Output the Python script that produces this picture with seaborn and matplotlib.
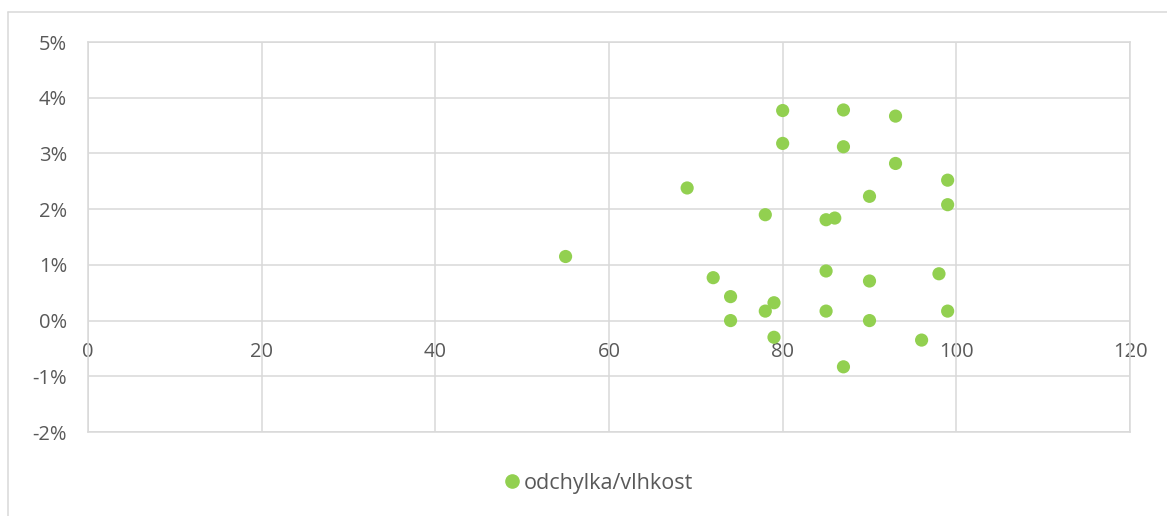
import pandas as pd
import matplotlib.pyplot as plt
import matplotlib.ticker as mticker
from matplotlib.lines import Line2D
import seaborn as sns

# data (vlhkost, odchylka in %)
vlhkost = [55, 69, 72, 74, 74, 78, 78, 79, 79, 80, 80, 85, 85, 85, 86,
           87, 87, 87, 90, 90, 90, 93, 93, 96, 98, 99, 99, 99]
odchylka = [1.15, 2.38, 0.77, 0.43, 0.00, 1.90, 0.17, 0.32, -0.30, 3.77, 3.18, 1.81, 0.89, 0.17, 1.84,
            3.78, 3.12, -0.83, 2.23, 0.71, 0.00, 3.67, 2.82, -0.35, 0.84, 2.52, 2.08, 0.17]
x_ticks = [0, 20, 40, 60, 80, 100, 120]
y_ticks = [-2, -1, 0, 1, 2, 3, 4, 5]

df = pd.DataFrame({"vlhkost": vlhkost, "odchylka": [v / 100 for v in odchylka]})

sns.set_style("white")
plt.rcParams["font.family"] = ["Open Sans", "DejaVu Sans"]
plt.rcParams["axes.unicode_minus"] = False
grey_txt = "#595959"
grid_c = "#D9D9D9"

fig = plt.figure(figsize=(11.67, 5.16), dpi=100)
ax = fig.add_axes([88 / 1167, 1 - 432 / 516, (1130 - 88) / 1167, (432 - 42) / 516])

sns.scatterplot(data=df, x="vlhkost", y="odchylka", ax=ax, color="#92D050",
                s=90, edgecolor="none", legend=False)

ax.set_xlim(0, 120)
ax.set_ylim(-0.02, 0.05)
ax.set_xticks(x_ticks)
ax.set_yticks([v / 100 for v in y_ticks])
ax.yaxis.set_major_formatter(mticker.PercentFormatter(1.0, decimals=0))
ax.grid(True, color=grid_c, lw=1.1)
ax.set_axisbelow(True)
for sp in ax.spines.values():
    sp.set_color(grid_c)
    sp.set_linewidth(1.1)
ax.tick_params(axis="y", length=0, pad=15, labelsize=14.5, labelcolor=grey_txt)
ax.tick_params(axis="x", length=0, labelbottom=False)
ax.set_xlabel("")
ax.set_ylabel("")

# x labels sit under the zero line
sec = ax.secondary_xaxis(2 / 7)
sec.set_xticks(x_ticks)
sec.tick_params(length=0, pad=15.5, labelsize=14.5, labelcolor=grey_txt)
sec.spines["bottom"].set_visible(False)

# legend
h = Line2D([], [], marker="o", ls="", color="#92D050", markersize=9.5)
fig.legend([h], ["odchylka/vlhkost"], loc="center", bbox_to_anchor=(0.512, 1 - 483 / 516),
           frameon=False, fontsize=15.5, labelcolor=grey_txt, handletextpad=0.05,
           handlelength=1.0)

# outer chart border
fig.add_artist(Line2D([8 / 1167, 8 / 1167], [0, 1 - 12 / 516], color=grid_c, lw=1.1))
fig.add_artist(Line2D([8 / 1167, 1], [1 - 12 / 516, 1 - 12 / 516], color=grid_c, lw=1.1))

fig.savefig("out.png", dpi=100, facecolor="white")
